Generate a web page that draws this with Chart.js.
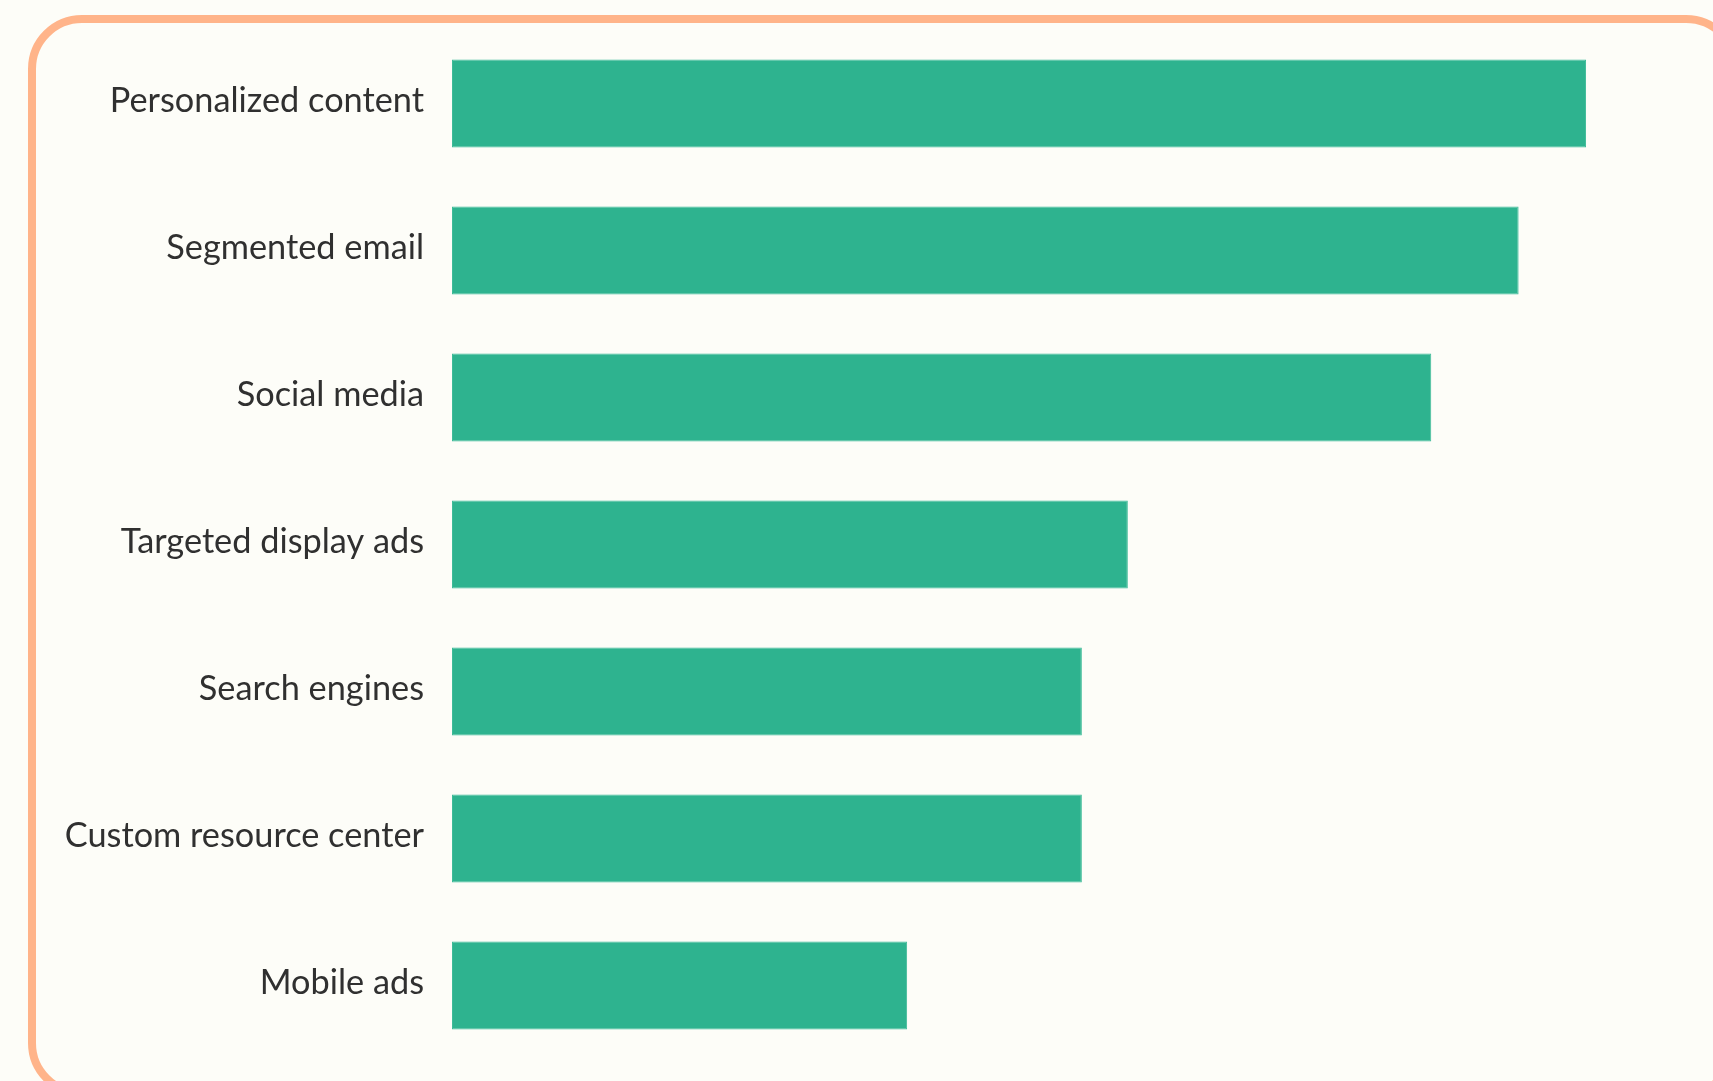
<!DOCTYPE html>
<html>
<head>
<meta charset="utf-8">
<script src="https://cdn.jsdelivr.net/npm/chart.js@4"></script>
<style>
  html, body { margin: 0; padding: 0; background: #FDFDF8; overflow: hidden; }
  #frame { position: absolute; left: 28px; top: 15px; width: 1712px; height: 1082px;
           box-sizing: border-box; border: 8px solid #FFB48A; border-radius: 54px; }
  #wrap { position: absolute; left: 0; top: 0; width: 1713px; height: 1081px; }
</style>
</head>
<body>
<div id="frame"></div>
<div id="wrap"><canvas id="c" width="1713" height="1081"></canvas></div>
<script>
const categories = ["Personalized content", "Segmented email", "Social media", "Targeted display ads", "Search engines", "Custom resource center", "Mobile ads"];
const values = [74, 69.6, 63.9, 44.1, 41.1, 41.1, 29.7];
const axisMax = 80;

new Chart(document.getElementById('c'), {
  type: 'bar',
  data: {
    labels: categories,
    datasets: [{
      data: values,
      backgroundColor: '#2EB38F',
      borderColor: '#3DBB98',
      borderWidth: 1,
      borderSkipped: false,
      barPercentage: 0.6,
      categoryPercentage: 1.0
    }]
  },
  options: {
    indexAxis: 'y',
    responsive: false,
    animation: false,
    layout: { padding: { left: 0, right: 35, top: 30, bottom: 22 } },
    plugins: { legend: { display: false }, tooltip: { enabled: false } },
    scales: {
      x: { display: false, min: 0, max: axisMax },
      y: {
        grid: { display: false, drawTicks: false },
        border: { display: false },
        ticks: {
          padding: 28,
          labelOffset: -3,
          color: '#303030',
          font: { family: 'Lato', size: 34.3 }
        },
        afterFit: (s) => { s.width = 452; s.paddingTop = 0; s.paddingBottom = 0; }
      }
    }
  }
});
</script>
</body>
</html>
